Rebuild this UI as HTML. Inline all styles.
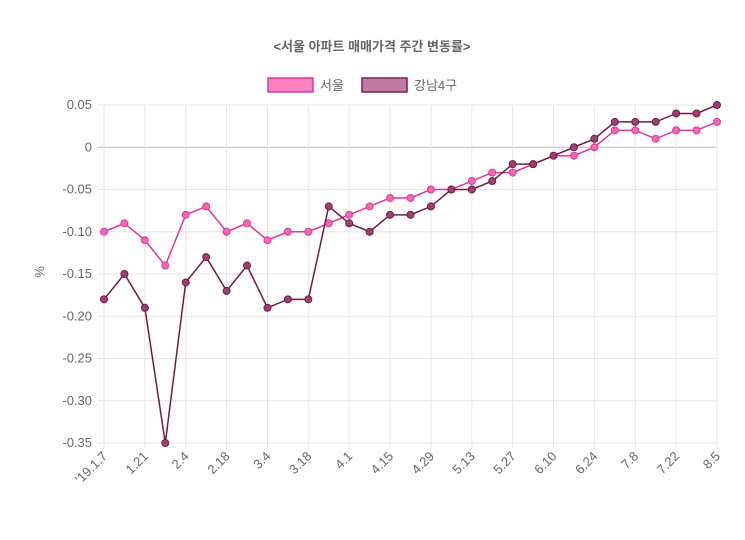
<!DOCTYPE html>
<html><head><meta charset="utf-8"><style>
body{margin:0;background:#fff;}
svg text{font-family:"Liberation Sans","Noto Sans CJK KR",sans-serif;}
</style></head><body>
<svg width="745" height="535" id="c">
<text x="372" y="51" text-anchor="middle" font-size="13" font-weight="bold" fill="#666">&lt;서울 아파트 매매가격 주간 변동률&gt;</text>
<g>
<rect x="268" y="78" width="45" height="14" fill="#ff80c2" stroke="#e0369a" stroke-width="1.5"/>
<text x="320" y="90" font-size="13" fill="#666">서울</text>
<rect x="362" y="78" width="45" height="14" fill="#c07ba0" stroke="#7a1f4d" stroke-width="1.5"/>
<text x="414" y="90" font-size="13" fill="#666">강남4구</text>
</g>
<text transform="translate(44,272) rotate(-90)" text-anchor="middle" font-size="13" fill="#666">%</text>
<g id="grid"></g><g id="series"></g>
</svg>
<script>
const xLabels=["'19.1.7","1.21","2.4","2.18","3.4","3.18","4.1","4.15","4.29","5.13","5.27","6.10","6.24","7.8","7.22","8.5"];
const yTicks=[0.05,0,-0.05,-0.10,-0.15,-0.20,-0.25,-0.30,-0.35];
const seoul=[-0.10,-0.09,-0.11,-0.14,-0.08,-0.07,-0.10,-0.09,-0.11,-0.10,-0.10,-0.09,-0.08,-0.07,-0.06,-0.06,-0.05,-0.05,-0.04,-0.03,-0.03,-0.02,-0.01,-0.01,0.00,0.02,0.02,0.01,0.02,0.02,0.03];
const gangnam=[-0.18,-0.15,-0.19,-0.35,-0.16,-0.13,-0.17,-0.14,-0.19,-0.18,-0.18,-0.07,-0.09,-0.10,-0.08,-0.08,-0.07,-0.05,-0.05,-0.04,-0.02,-0.02,-0.01,0.00,0.01,0.03,0.03,0.03,0.04,0.04,0.05];
const NS="http://www.w3.org/2000/svg";
const x0=104,x1=717,y0=105,y1=443,n=seoul.length;
const X=i=>x0+(x1-x0)*i/(n-1);
const Y=v=>y0+(0.05-v)/0.40*(y1-y0);
function mk(t,a,p){const e=document.createElementNS(NS,t);for(const k in a)e.setAttribute(k,a[k]);p.appendChild(e);return e;}
const g=document.getElementById('grid');
yTicks.forEach(v=>{
 const l=mk('line',{x1:x0-6,x2:x1,y1:Y(v),y2:Y(v),stroke:v===0?'#bbb':'#e6e6e6'},g);
 
 
 const t=mk('text',{x:x0-12,y:Y(v)+4,'text-anchor':'end','font-size':'13',fill:'#666'},g);
 t.textContent=v===0?'0':v.toFixed(2);
 
 
});
xLabels.forEach((s,j)=>{
 const xx=X(j*2);
 const l=mk('line',{x1:xx,x2:xx,y1:y0,y2:y1+6,stroke:'#e6e6e6'},g);
 
 
 const t=mk('text',{transform:`translate(${xx+4},${y1+14}) rotate(-45)`,'text-anchor':'end','font-size':'13',fill:'#666'},g);
 t.textContent=s;
 
 
});
const sg=document.getElementById('series');
function draw(vals,stroke,fill,name){
 const p=mk('polyline',{points:vals.map((v,i)=>X(i)+','+Y(v)).join(' '),fill:'none',stroke:stroke,'stroke-width':'1.5'},sg);
 
 
 vals.forEach((v,i)=>{
  const c=mk('circle',{cx:X(i),cy:Y(v),r:3.5,fill:fill,stroke:stroke,'stroke-width':'1'},sg);
  
  
 });
}
draw(seoul,'#e0369a','#f06ab4','seoul');
draw(gangnam,'#6e1c45','#a0406e','gangnam');
</script>
</body></html>
